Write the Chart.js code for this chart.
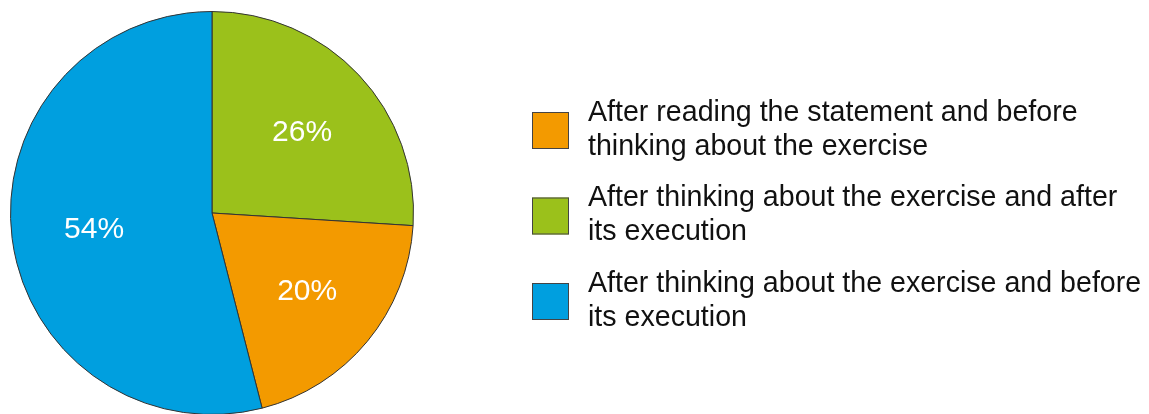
<!DOCTYPE html>
<html>
<head>
<meta charset="utf-8">
<script src="https://cdn.jsdelivr.net/npm/chart.js@4"></script>
<style>
    html, body { margin: 0; padding: 0; overflow: hidden; background: #fff; }
    #wrap { position: relative; width: 1149px; height: 430px; }
</style>
</head>
<body>
<div id="wrap"><canvas id="pieChart"></canvas></div>
<script>
// Data (pie order, clockwise from 12 o'clock)
const categories = [
    ['After thinking about the exercise and after', 'its execution'],
    ['After reading the statement and before', 'thinking about the exercise'],
    ['After thinking about the exercise and before', 'its execution']
];
const shares = [26, 20, 54];
const sliceColors = ['#9bc11b', '#f39a00', '#009fdf'];
const legendOrder = [1, 0, 2];

const FONT = "'Liberation Sans', Arial, sans-serif";

// Percent labels inside the slices
const sliceLabels = {
    id: 'sliceLabels',
    afterDatasetsDraw(chart) {
        const ctx = chart.ctx;
        const meta = chart.getDatasetMeta(0);
        ctx.save();
        ctx.fillStyle = '#ffffff';
        ctx.font = '30px ' + FONT;
        ctx.textAlign = 'center';
        ctx.textBaseline = 'middle';
        meta.data.forEach((arc, i) => {
            const p = arc.getProps(['x', 'y', 'startAngle', 'endAngle', 'outerRadius']);
            const mid = (p.startAngle + p.endAngle) / 2;
            const r = p.outerRadius * 0.6;
            ctx.fillText(shares[i] + '%', p.x + Math.cos(mid) * r + 2, p.y + Math.sin(mid) * r + 2);
        });
        ctx.restore();
    }
};

// Legend on the right with two-line labels
const sideLegend = {
    id: 'sideLegend',
    afterDraw(chart) {
        const ctx = chart.ctx;
        ctx.save();
        ctx.font = '28.6px ' + FONT;
        ctx.textBaseline = 'middle';
        ctx.textAlign = 'left';
        legendOrder.forEach((idx, row) => {
            const top = 112 + row * 85.5;
            ctx.fillStyle = sliceColors[idx];
            ctx.fillRect(532, top, 37, 37);
            ctx.strokeStyle = '#444';
            ctx.lineWidth = 1;
            ctx.strokeRect(532.5, top + 0.5, 36, 36);
            ctx.fillStyle = '#111';
            categories[idx].forEach((line, k) => {
                ctx.fillText(line, 588, top + 1 + k * 34);
            });
        });
        ctx.restore();
    }
};

new Chart(document.getElementById('pieChart'), {
    type: 'pie',
    data: {
        labels: categories,
        datasets: [{
            data: shares,
            backgroundColor: sliceColors,
            borderColor: '#333333',
            borderWidth: 1
        }]
    },
    options: {
        responsive: true,
        maintainAspectRatio: false,
        animation: false,
        layout: { padding: { left: 10, top: 11, right: 735, bottom: 15 } },
        plugins: {
            legend: { display: false },
            tooltip: { enabled: false }
        }
    },
    plugins: [sliceLabels, sideLegend]
});
</script>
</body>
</html>
